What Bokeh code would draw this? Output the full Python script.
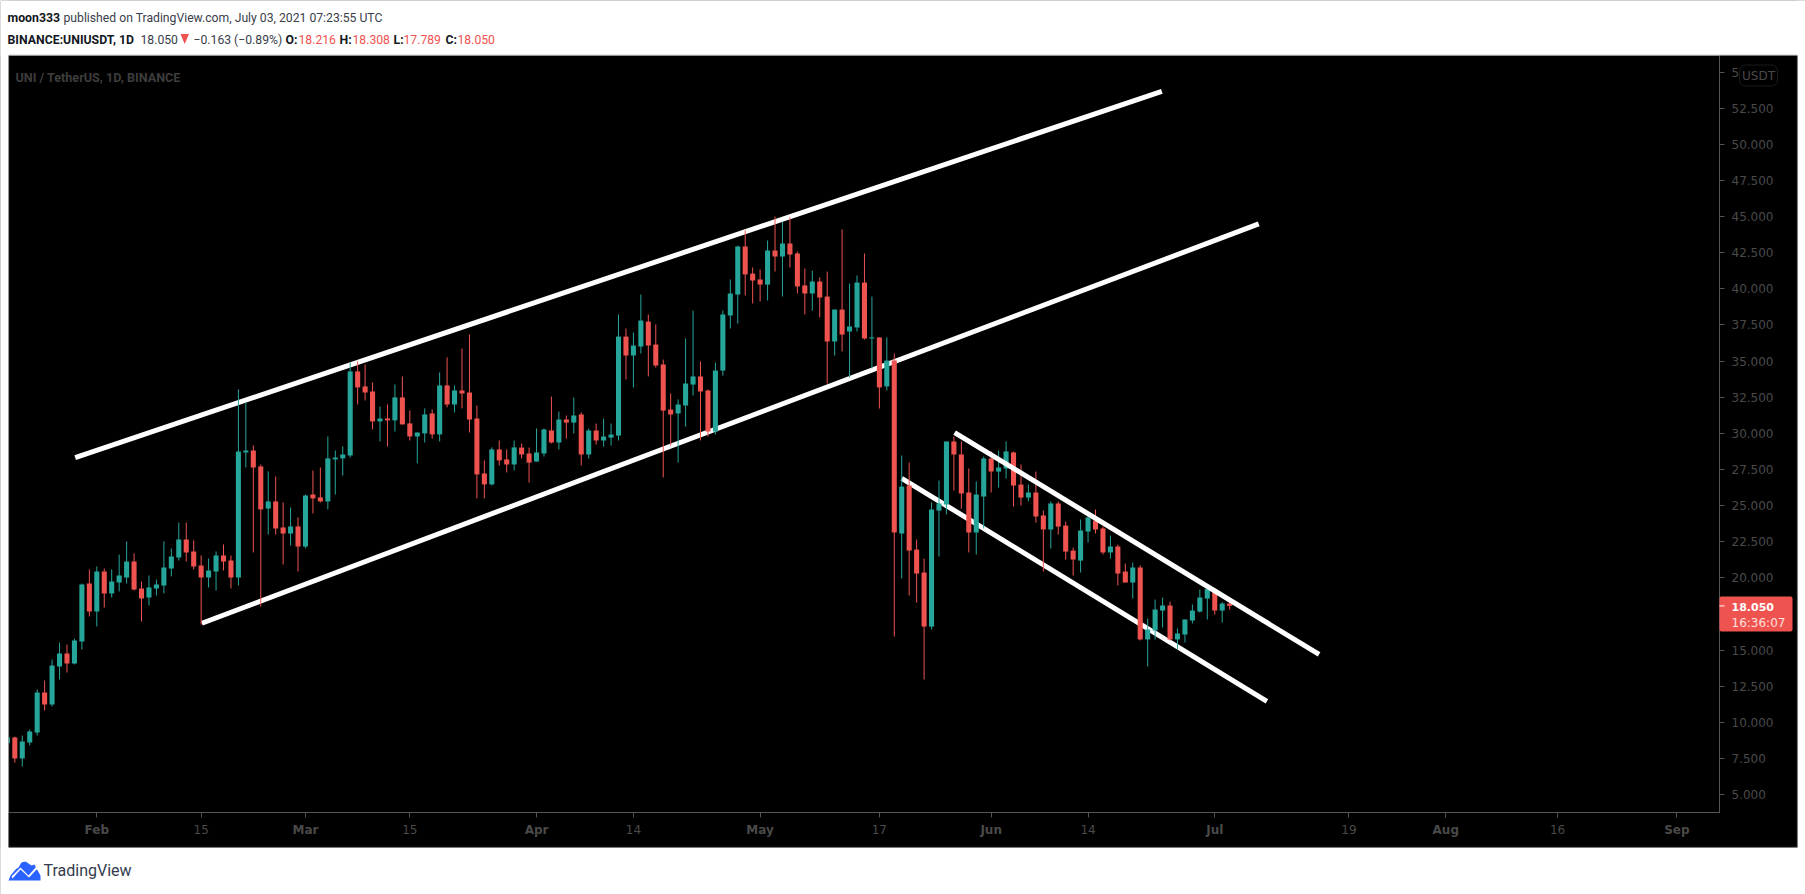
from bokeh.plotting import figure
from bokeh.embed import file_html
from bokeh.resources import INLINE
from bokeh.models import (BoxAnnotation, ColumnDataSource, FixedTicker, Label,
                          NumeralTickFormatter, PolyAnnotation)

# ---- data: day number counted from 1 February 2021, prices in USDT ----
first_day = -12
opens = [8.55,
 8.94,7.49,8.60,9.29,12.06,11.23,13.86,14.76,14.06,15.59,19.60,
 17.66,20.43,18.91,19.67,20.02,21.12,19.26,18.63,19.26,19.46,
 20.64,21.40,22.65,21.82,20.85,20.02,20.43,21.54,21.19,20.02,
 28.67,28.81,27.70,24.79,25.28,23.48,23.06,23.55,22.16,25.76,
 25.56,25.28,28.19,28.26,28.46,34.28,33.24,32.89,30.82,31.02,
 30.89,32.48,30.68,29.78,29.99,31.37,29.92,33.31,31.99,32.96,
 32.82,31.02,27.22,26.46,28.88,28.19,27.84,29.01,28.60,28.04,
 28.60,30.19,29.36,30.95,30.74,31.30,28.53,30.19,29.50,29.70,
 29.84,36.69,35.38,36.00,37.73,36.14,34.76,31.64,31.37,31.92,
 33.37,33.93,32.96,30.12,34.34,38.15,39.60,42.92,41.05,40.64,
 40.29,42.65,42.23,43.13,42.44,40.23,39.67,40.50,39.46,36.35,
 38.56,37.04,37.32,40.43,36.56,36.63,33.24,35.03,23.06,26.38,
 21.95,20.36,16.62,24.65,25.07,29.43,28.53,25.90,23.13,25.62,
 28.25,27.35,27.56,28.67,26.45,25.55,25.90,24.31,23.34,25.14,
 23.61,21.88,21.19,23.20,23.96,23.41,21.75,22.16,20.43,19.67,
 20.71,15.73,16.35,17.73,18.08,15.73,16.07,17.04,17.66,18.56,
 19.23,17.73,18.216]
highs = [9.10,
 9.01,9.08,9.50,12.27,12.89,14.34,15.52,15.38,15.79,19.60,20.57,
 20.78,20.64,20.57,21.61,22.51,21.68,19.74,20.16,19.88,22.51,
 22.02,23.82,23.82,22.58,21.54,21.33,21.82,22.30,21.54,33.03,
 32.13,29.16,27.84,27.36,27.01,25.21,24.86,24.17,25.76,27.42,
 27.63,29.78,28.81,29.09,34.90,34.97,34.76,33.52,31.85,31.99,
 33.38,33.93,31.58,30.05,31.72,31.65,34.21,35.25,33.31,35.86,
 36.83,31.92,28.12,29.02,29.50,28.88,29.50,29.29,29.01,30.33,
 30.33,32.54,31.50,31.23,32.47,31.44,30.33,30.67,31.02,30.67,
 38.22,37.25,36.97,39.60,38.22,37.53,35.10,32.75,32.34,36.56,
 38.49,34.96,33.03,34.89,38.49,40.64,42.99,44.03,41.47,41.33,
 43.34,45.00,44.65,44.93,42.58,41.40,41.26,40.78,41.19,38.56,
 44.10,40.36,40.92,42.44,39.46,36.63,36.63,35.52,28.46,27.97,
 22.65,21.33,25.21,26.73,29.43,29.77,29.43,27.56,26.66,28.39,
 28.74,28.80,29.43,28.74,27.84,26.45,27.35,24.65,25.28,25.28,
 23.89,22.09,24.03,24.31,24.72,23.54,22.92,22.30,20.98,21.05,
 20.85,17.18,18.49,18.63,18.35,16.49,17.11,18.15,19.18,19.35,
 19.30,18.31,18.308]
lows = [8.40,
 7.21,6.94,8.39,9.08,10.81,11.09,12.96,13.44,14.00,15.03,17.32,
 16.63,17.94,18.63,19.05,19.60,19.12,16.97,18.08,18.77,18.91,
 20.09,21.19,21.12,20.57,16.76,19.32,19.12,20.50,19.26,19.47,
 27.63,21.75,18.01,23.00,23.00,20.92,22.23,20.43,22.03,24.45,
 25.21,24.73,25.76,27.08,28.32,31.99,32.27,30.26,29.43,29.09,
 30.12,30.61,29.50,27.91,29.36,29.64,29.43,31.79,31.44,31.72,
 30.05,25.49,25.49,26.39,27.77,27.29,27.42,28.25,26.59,28.04,
 28.39,29.29,28.87,29.63,29.98,27.77,28.25,29.22,29.08,29.15,
 29.50,33.72,33.17,35.52,33.93,34.55,26.94,29.15,27.97,30.46,
 32.61,29.50,29.77,29.91,33.99,37.25,37.59,39.53,38.98,39.12,
 39.19,41.19,39.46,41.47,39.67,38.22,38.49,38.01,33.44,35.38,
 35.66,33.86,37.04,36.49,34.48,31.71,32.96,15.93,19.95,18.77,
 18.28,12.96,16.42,21.47,24.38,26.04,24.79,21.75,21.61,23.41,
 25.90,26.24,26.87,24.93,25.00,25.28,23.82,20.43,22.02,22.99,
 21.26,20.15,20.36,22.44,23.06,21.61,21.33,19.46,19.67,18.56,
 15.66,13.86,15.73,16.56,15.66,15.03,15.52,16.83,17.59,17.11,
 17.45,16.90,17.789]
closes = [8.97,
 7.49,8.67,9.36,12.06,11.23,13.93,14.76,14.06,15.66,19.53,17.66,
 20.43,18.91,19.74,20.16,21.12,19.19,18.56,19.32,19.53,20.71,
 21.47,22.65,21.75,20.78,20.02,20.50,21.54,21.12,20.02,28.74,
 28.81,27.63,24.73,25.28,23.41,23.06,23.55,22.16,25.69,25.49,
 25.28,28.26,28.32,28.53,34.28,33.17,32.82,30.82,31.02,30.89,
 32.48,30.61,29.78,30.05,31.30,29.92,33.31,31.99,32.96,32.75,
 30.95,27.15,26.46,28.88,28.12,27.84,29.02,28.53,27.97,28.67,
 30.26,29.36,30.95,30.74,31.23,28.53,30.19,29.50,29.77,29.91,
 36.69,35.38,36.07,37.80,36.07,34.69,31.57,31.30,31.99,33.44,
 33.93,32.89,30.12,34.34,38.22,39.67,42.92,40.99,40.57,40.29,
 42.65,42.23,43.13,42.37,40.16,39.67,40.50,39.39,36.35,38.56,
 36.83,37.39,40.43,36.56,36.63,33.17,35.03,23.13,26.31,21.88,
 20.29,16.62,24.72,25.14,29.43,28.53,25.83,23.13,25.76,28.25,
 27.35,27.63,28.74,26.38,25.55,25.90,24.24,23.34,25.14,23.54,
 21.81,21.26,23.27,24.17,23.34,21.75,22.16,20.29,19.67,20.71,
 15.73,16.42,17.80,18.08,15.73,16.14,17.11,17.73,18.63,19.23,
 17.73,18.216,18.050]

# trend lines: start day, end day, start price, end price
line_days_under = [[-2.9, 142.9], [14.1, 155.9], [108.0, 157.0]]
line_prices_under = [[28.32, 53.66], [16.85, 44.49], [26.88, 11.44]]
line_days_over = [115.1, 164.0]
line_prices_over = [30.05, 14.69]

price_ticks = [5, 7.5, 10, 12.5, 15, 17.5, 20, 22.5, 25, 27.5, 30, 32.5, 35, 37.5,
               40, 42.5, 45, 47.5, 50, 52.5, 55]
day_ticks = [0, 14, 28, 42, 59, 72, 89, 105, 120, 133, 150, 168, 181, 196, 212]
day_labels = ["", "15", "", "15", "", "14", "", "17", "", "14", "", "19", "", "16", ""]
month_ticks = [0, 28, 59, 89, 120, 150, 181, 212]
month_names = ["Feb", "Mar", "Apr", "May", "Jun", "Jul", "Aug", "Sep"]

header_one = "published on TradingView.com, July 03, 2021 07:23:55 UTC"
symbol_text = "BINANCE:UNIUSDT, 1D"
change_text = "\u22120.163 (\u22120.89%)"
title_text = "UNI / TetherUS, 1D, BINANCE"

# ---- colours and page layout ----
UP, DOWN = "#26a69a", "#ef5350"
AXIS = "#555555"
TICKTXT = "#4a4a4a"
FONT = "Roboto"
AXFONT = "DejaVu Sans"

F_L, F_R, F_T, F_B = 8, 1719, 55, 812          # frame, page pixels
AX_R, AX_B = 1797, 847
WIDTH, HEIGHT = 1805, 894
PX_PER_DAY = 7.453
X0 = 96.3            # page x of day 0
Y5 = 794.0           # page y of price 5
PX_PER_USD = 14.45


def sx(px):
    return (px - X0) / PX_PER_DAY


def sy(py):
    return 5 + (Y5 - py) / PX_PER_USD


p = figure(width=WIDTH, height=HEIGHT, output_backend="svg", toolbar_location=None,
           x_range=(sx(F_L), sx(F_R)), y_range=(sy(F_B), sy(F_T)),
           y_axis_location="right", min_border_left=F_L, min_border_top=F_T,
           min_border_right=WIDTH - F_R, min_border_bottom=HEIGHT - F_B)
p.background_fill_color = "#000000"
p.border_fill_color = "#000000"
p.outline_line_color = None
p.grid.visible = False

days = [first_day + i for i in range(len(opens))]
colors = [UP if c >= o else DOWN for o, c in zip(opens, closes)]
src = ColumnDataSource(dict(x=days, o=opens, h=highs, l=lows, c=closes, col=colors))

for xs, ys in zip(line_days_under, line_prices_under):
    p.line(xs, ys, line_color="#ffffff", line_width=5)

p.segment("x", "l", "x", "h", source=src, line_color="col", line_width=1)
p.vbar("x", 0.68, "o", "c", source=src, fill_color="col", line_color=None)

p.line(line_days_over, line_prices_over, line_color="#ffffff", line_width=5)

# axes
ay = p.yaxis[0]
ay.ticker = FixedTicker(ticks=price_ticks)
ay.formatter = NumeralTickFormatter(format="0.000")
ax = p.xaxis[0]
ax.ticker = FixedTicker(ticks=day_ticks)
ax.major_label_overrides = dict(zip(day_ticks, day_labels))
for a in (ax, ay):
    a.axis_line_color = AXIS
    a.major_tick_line_color = AXIS
    a.major_tick_in = 0
    a.major_tick_out = 5
    a.minor_tick_line_color = None
    a.major_label_text_color = TICKTXT
    a.major_label_text_font = AXFONT
    a.major_label_text_font_size = "12px"
ay.major_label_standoff = 7
ax.major_label_standoff = 7

# ---- transparent page-sized layer over the chart: header, footer, tags ----
top = figure(width=WIDTH, height=HEIGHT, output_backend="svg", toolbar_location=None,
             x_range=(0, WIDTH), y_range=(HEIGHT, 0), x_axis_location=None, y_axis_location=None,
             min_border=0, min_border_left=0, min_border_right=0, min_border_top=0, min_border_bottom=0,
             styles={"position": "absolute", "left": "0px", "top": "0px"})
top.background_fill_alpha = 0
top.border_fill_alpha = 0
top.outline_line_color = None
top.grid.visible = False


def box(l, r, t, b, **kw):
    top.add_layout(BoxAnnotation(left=l, right=r, top=t, bottom=b, left_units="canvas",
                                 right_units="canvas", top_units="canvas", bottom_units="canvas",
                                 level="annotation", **kw))


def poly(xs, ys, color):
    top.add_layout(PolyAnnotation(xs=xs, ys=ys, xs_units="canvas", ys_units="canvas",
                                  fill_color=color, fill_alpha=1, line_color=None, level="annotation"))


def text(px, py, s, color="#131722", size="12.2px", style="normal", font=FONT, align="left"):
    top.add_layout(Label(x=px, y=py, x_units="canvas", y_units="canvas", text=s, text_color=color,
                         text_font=font, text_font_size=size, text_font_style=style,
                         text_align=align, text_baseline="middle", level="annotation"))


# white page round the black chart
white = dict(fill_color="#ffffff", fill_alpha=1, line_color=None)
box(0, WIDTH, 0, F_T, **white)
box(0, WIDTH, AX_B, HEIGHT, **white)
box(0, F_L, 0, HEIGHT, **white)
box(AX_R, WIDTH, 0, HEIGHT, **white)

for d, m in zip(month_ticks, month_names):
    text(X0 + d * PX_PER_DAY, 829, m, TICKTXT, "12px", "bold", AXFONT, "center")

# outer border
box(F_L + 0.5, AX_R - 0.5, F_T - 0.5, AX_B - 0.5, fill_alpha=0, line_color=AXIS, line_width=1)

# USDT button
box(1739, 1777, 64.5, 85.5, fill_color="#000000", fill_alpha=1, line_color=AXIS,
    line_width=1, border_radius=6)
text(1758, 75, "USDT", TICKTXT, "12px", font=AXFONT, align="center")

# price tag
box(F_R, 1792, 596, 631, fill_color=DOWN, fill_alpha=1, line_color=None, border_radius=2)
text(1731, 606, f"{closes[-1]:.3f}", "#ffffff", "11px", "bold", AXFONT)
text(1731, 622, "16:36:07", "#fde0df", "12px", "normal", AXFONT)
tag_y = Y5 - (closes[-1] - 5) * PX_PER_USD
box(F_R, F_R + 5, tag_y - 0.5, tag_y + 0.5, fill_color="#ffffff", fill_alpha=1, line_color=None)

# chart title
text(15, 77, title_text, "#3d3d3d", "12.6px", "bold")

# header
text(7, 17, "moon333", "#131722", "12.3px", "bold")
text(63, 17, header_one, "#3a3e4a", "12.2px")
text(7, 39, symbol_text, "#131722", "12.3px", "bold")
text(140, 39, f"{closes[-1]:.3f}", "#3a3e4a", "12.2px")
poly([180, 188.5, 184.2], [33.5, 33.5, 43.5], DOWN)
text(193, 39, change_text, "#3a3e4a", "12.2px")
ohlc = [("O:", opens[-1], 285, 298), ("H:", highs[-1], 339, 352),
        ("L:", lows[-1], 393, 403), ("C:", closes[-1], 445, 457)]
for name, val, x1, x2 in ohlc:
    text(x1, 39, name, "#131722", "12.3px", "bold")
    text(x2, 39, f"{val:.3f}", DOWN, "12.2px")

# footer logo
cloud_x = [8, 10, 15, 18, 21, 25, 28, 31, 34, 36, 40, 40, 8]
cloud_y = [880, 875, 869, 867, 862, 861, 863, 865, 864, 868, 875, 880, 880]
poly(cloud_x, cloud_y, "#2962ff")
zig_x = [11, 20, 28, 36, 37, 28.5, 20, 12]
zig_y = [876, 867, 875, 866, 868, 877, 869, 878]
poly(zig_x, zig_y, "#ffffff")
text(43, 870, "TradingView", "#333c4e", "16px")

open("out.html", "w").write(file_html([p, top], INLINE))
